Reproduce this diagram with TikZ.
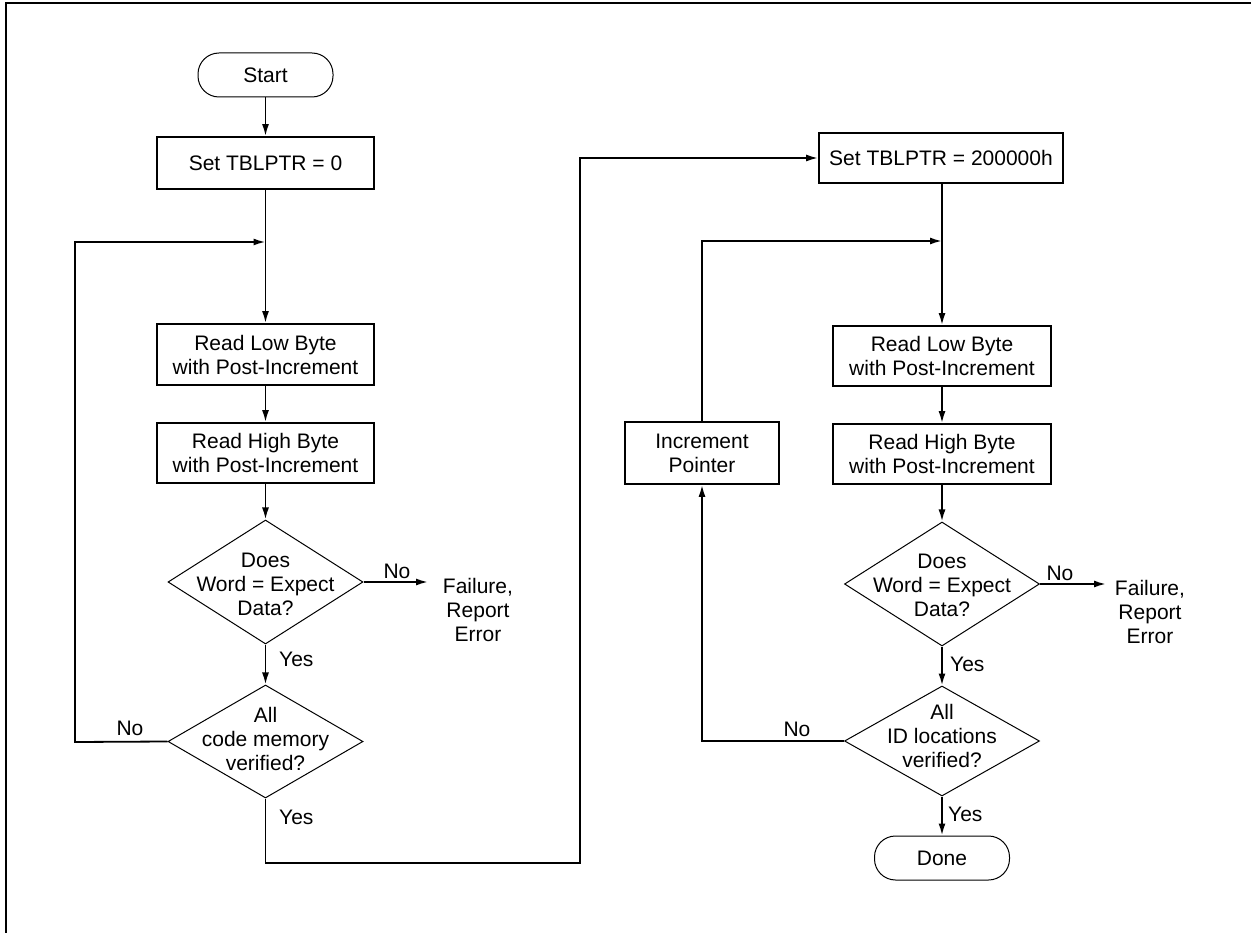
\documentclass[tikz,border=0pt]{standalone}
\usepackage{fontspec}
\setmainfont{Liberation Sans}
\usetikzlibrary{arrows.meta,shapes.geometric}
\begin{document}
\begin{tikzpicture}[x=1pt,y=-1pt,
  font=\fontsize{21}{24}\selectfont,
  conn/.style={line width=1.8pt},
  arr/.style={conn,-{Latex[length=12pt,width=7pt]}},
  procbox/.style={draw,line width=1.8pt,rectangle,inner sep=0pt,align=center},
  term/.style={draw,line width=1pt,rectangle,rounded corners=21pt,inner sep=0pt,minimum width=135pt,minimum height=44pt},
  decis/.style={draw,line width=1pt,diamond,inner sep=0pt,minimum width=195pt},
  dtext/.style={inner sep=0pt,align=center},
  lbl/.style={inner sep=0pt}
]
\useasboundingbox (0,0) rectangle (1251,933);
\draw[line width=2pt] (6,933) -- (6,3) -- (1251,3);

% left column
\node[term] (start) at (265.5,75) {Start};
\node[procbox,minimum width=217pt,minimum height=52pt] (box0) at (265.5,163) {Set TBLPTR = 0};
\node[procbox,minimum width=217pt,minimum height=61pt] (low1) at (265.5,354.5) {Read Low Byte\\with Post-Increment};
\node[procbox,minimum width=217pt,minimum height=60pt] (high1) at (265.5,453) {Read High Byte\\with Post-Increment};
\node[decis,minimum height=124pt] (d1) at (265.5,582) {};
\node[dtext] (d1t) at (265.5,584) {Does\\Word = Expect\\Data?};
\node[decis,minimum height=113pt] (d2) at (265.5,741.5) {};
\node[dtext] (d2t) at (265.5,739) {All\\code memory\\verified?};
\node[lbl,align=center] (fail1) at (478,610) {Failure,\\Report\\Error};
\coordinate (j1) at (265.5,242);
\coordinate (f1) at (428,582);
\coordinate (l1) at (75,742);
\coordinate (b1) at (265.5,863);
\coordinate (b2) at (580,863);

\draw[arr] (start) -- (box0);
\draw[arr] (box0) -- (low1);
\draw[arr] (d2.west) -- (l1) |- (j1);
\draw[arr] (low1) -- (high1);
\draw[arr] (high1) -- (d1);
\draw[arr] (d1) -- (d2);
\draw[arr] (d1.east) -- (f1);

% right column
\node[procbox,minimum width=244pt,minimum height=50pt] (box2) at (941,158) {Set TBLPTR = 200000h};
\node[procbox,minimum width=218pt,minimum height=60pt] (low2) at (942,356) {Read Low Byte\\with Post-Increment};
\node[procbox,minimum width=218pt,minimum height=60pt] (high2) at (942,454) {Read High Byte\\with Post-Increment};
\node[procbox,minimum width=154pt,minimum height=62pt] (incr) at (702,453) {Increment\\Pointer};
\node[decis,minimum height=124pt] (d3) at (942,584) {};
\node[dtext] (d3t) at (942,585) {Does\\Word = Expect\\Data?};
\node[decis,minimum height=110pt] (d4) at (942,741) {};
\node[dtext] (d4t) at (942,736) {All\\ID locations\\verified?};
\node[term] (done) at (942,858) {Done};
\node[lbl,align=center] (fail2) at (1150,612) {Failure,\\Report\\Error};
\coordinate (j2) at (942,241);
\coordinate (f2) at (1106,584);

\draw[arr] (d2.south) -- (b1) -- (b2) |- (box2.west);
\draw[arr] (box2.south -| low2.north) -- (low2);
\draw[arr] (incr.north) -- (incr.north |- j2) -- (j2);
\draw[arr] (d4.west) -- (incr.south |- d4.west) -- (incr.south);
\draw[arr] (low2) -- (high2);
\draw[arr] (high2) -- (d3);
\draw[arr] (d3) -- (d4);
\draw[arr] (d3.east) -- (f2);
\draw[arr] (d4) -- (done);

% labels
\node[lbl] (n1) at (397,571) {No};
\node[lbl,anchor=west] (y1) at (279,659) {Yes};
\node[lbl] (n2) at (130,728) {No};
\node[lbl,anchor=west] (y2) at (279,817) {Yes};
\node[lbl] (n3) at (1060,573) {No};
\node[lbl,anchor=west] (y3) at (950,664) {Yes};
\node[lbl] (n4) at (797,729) {No};
\node[lbl,anchor=west] (y4) at (948,814) {Yes};
\end{tikzpicture}
\end{document}
